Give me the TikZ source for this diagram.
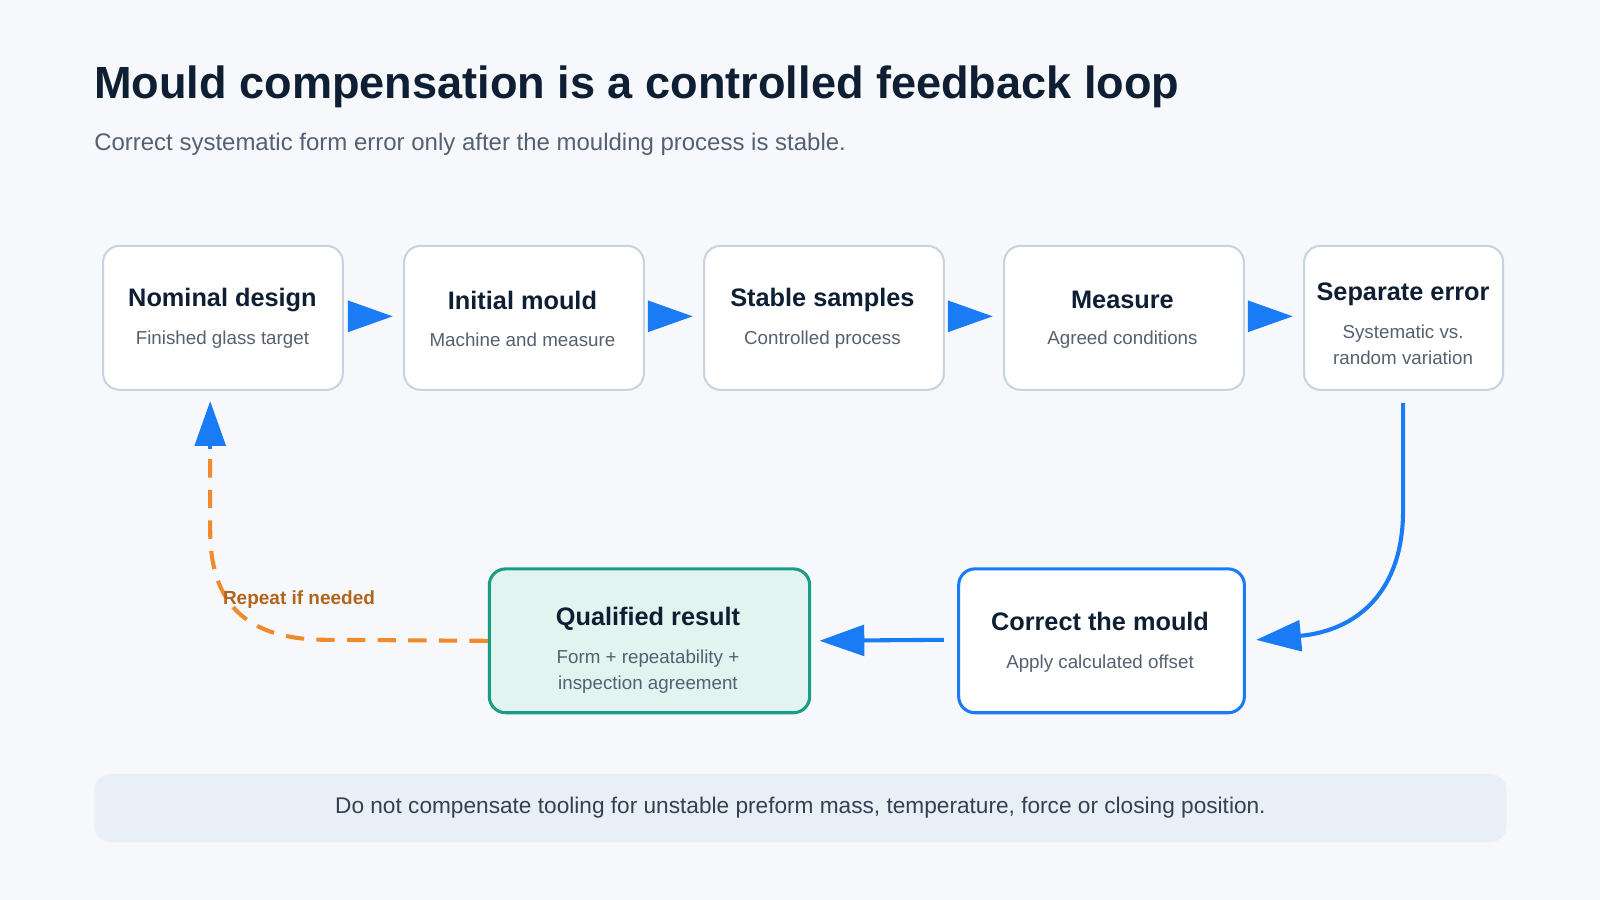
\documentclass[tikz,border=0pt]{standalone}
\usepackage{fontspec}
\setmainfont{Liberation Sans}
\usetikzlibrary{arrows.meta}
\definecolor{bg}{HTML}{F6F8FB}
\definecolor{ink}{HTML}{0F1F33}
\definecolor{sub}{HTML}{556070}
\definecolor{bord}{HTML}{C8D3E0}
\definecolor{blu}{HTML}{1A7CF5}
\definecolor{grn}{HTML}{1A9E82}
\definecolor{grnf}{HTML}{E3F4F0}
\definecolor{org}{HTML}{F08A2C}
\definecolor{brn}{HTML}{B0651C}
\definecolor{foot}{HTML}{E8EFF6}
\begin{document}
\begin{tikzpicture}[x=0.5pt,y=-0.5pt,
 box/.style={draw=bord,line width=1pt,fill=white,rounded corners=8pt,anchor=north west,inner sep=0pt},
 ttl/.style={font=\bfseries\fontsize{12.4}{14}\selectfont,text=ink},
 st/.style={font=\fontsize{9.2}{12.5}\selectfont,text=sub,align=center},
 tip/.style={-{Triangle[length=22pt,width=15pt]},blu,line width=2pt}]
\fill[bg] (0,0) rectangle (1568,882);
\useasboundingbox (0,0) rectangle (1568,882);
\node[anchor=west,inner sep=0pt,font=\bfseries\fontsize{22.1}{25}\selectfont,text=ink] (title) at (92,85) {Mould compensation is a controlled feedback loop};
\node[anchor=west,inner sep=0pt,font=\fontsize{11.75}{14}\selectfont,text=sub] (subt) at (92,141) {Correct systematic form error only after the moulding process is stable.};
% boxes
\node[box,minimum width=117.5pt,minimum height=70.5pt] (b1) at (100,240) {};
\node[box,minimum width=117.5pt,minimum height=70.5pt] (b2) at (395,240) {};
\node[box,minimum width=117.5pt,minimum height=70.5pt] (b3) at (689,240) {};
\node[box,minimum width=117.5pt,minimum height=70.5pt] (b4) at (983,240) {};
\node[box,minimum width=97.5pt,minimum height=70.5pt] (b5) at (1277,240) {};
\node[box,draw=grn,fill=grnf,line width=1.5pt,minimum width=157pt,minimum height=70.5pt] (q) at (478,556) {};
\node[box,draw=blu,line width=1.5pt,minimum width=140pt,minimum height=70.5pt] (c) at (938,556) {};
\node[ttl] (t1) at (218,294) {Nominal design};
\node[st] (s1) at (218,333) {Finished glass target};
\node[ttl] (t2) at (512,294) {Initial mould};
\node[st] (s2) at (512,333) {Machine and measure};
\node[ttl] (t3) at (806,294) {Stable samples};
\node[st] (s3) at (806,333) {Controlled process};
\node[ttl] (t4) at (1100,294) {Measure};
\node[st] (s4) at (1100,333) {Agreed conditions};
\node[ttl] (t5) at (1375,288) {Separate error};
\node[st] (s5) at (1375,338) {Systematic vs.\\random variation};
\node[ttl] (tq) at (635,606) {Qualified result};
\node[st] (sq) at (635,658) {Form + repeatability +\\inspection agreement};
\node[ttl] (tc) at (1078,609) {Correct the mould};
\node[st] (sc) at (1078,650) {Apply calculated offset};
% arrows
\draw[tip,shorten <=2pt,shorten >=5pt] ([yshift=-35pt]b1.north east) -- ([yshift=-35pt]b2.north west);
\draw[tip,shorten <=2pt,shorten >=5pt] ([yshift=-35pt]b2.north east) -- ([yshift=-35pt]b3.north west);
\draw[tip,shorten <=2pt,shorten >=5pt] ([yshift=-35pt]b3.north east) -- ([yshift=-35pt]b4.north west);
\draw[tip,shorten <=2pt,shorten >=5pt] ([yshift=-35pt]b4.north east) -- ([yshift=-35pt]b5.north west);
\coordinate (d0) at (1375,395);
\draw[tip,shorten >=5pt] (d0) -- (1375,500) .. controls (1375,580) and (1330,618) .. (c.east);
\coordinate (ce) at (925,627);
\draw[tip,shorten >=4pt] (ce) -- (q.east);
\coordinate (fb) at (206,393);
\draw[org,line width=2pt,dash pattern=on 9pt off 6pt] (q.west) -- (320,627) .. controls (240,627) and (206,590) .. (206,520) -- (206,440);
\draw[tip] (206,440) -- (fb);
\node[font=\bfseries\fontsize{9.3}{11}\selectfont,text=brn] (rl) at (293,588) {Repeat if needed};
% footer
\node[fill=foot,rounded corners=8pt,anchor=north west,minimum width=692pt,minimum height=33.5pt,inner sep=0pt] (fbox) at (92,758) {};
\node[font=\fontsize{11.1}{13}\selectfont,text=ink!85] (ft) at (fbox.center) {Do not compensate tooling for unstable preform mass, temperature, force or closing position.};
\end{tikzpicture}
\end{document}
